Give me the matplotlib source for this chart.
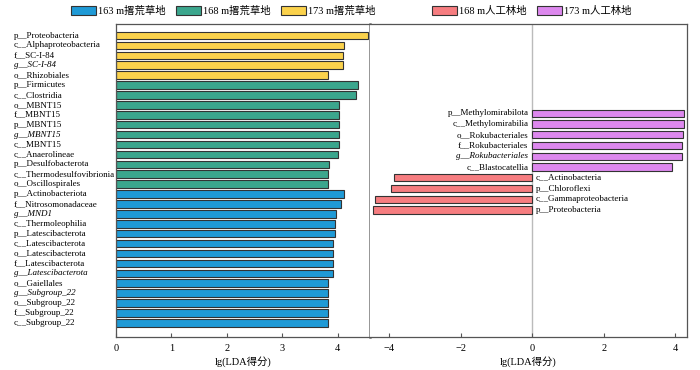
import matplotlib.pyplot as plt
from matplotlib.patches import Patch
from matplotlib.transforms import blended_transform_factory

plt.rcParams['font.family'] = ['Liberation Serif', 'Noto Sans CJK SC']
plt.rcParams['axes.unicode_minus'] = True

# left panel: 撂荒草地 groups (top to bottom)
left_labels = [
    'p__Proteobacteria', 'c__Alphaproteobacteria', 'f__SC-I-84', 'g__SC-I-84',
    'o__Rhizobiales', 'p__Firmicutes', 'c__Clostridia', 'o__MBNT15',
    'f__MBNT15', 'p__MBNT15', 'g__MBNT15', 'c__MBNT15', 'c__Anaerolineae',
    'p__Desulfobacterota', 'c__Thermodesulfovibrionia', 'o__Oscillospirales',
    'p__Actinobacteriota', 'f__Nitrosomonadaceae', 'g__MND1',
    'c__Thermoleophilia', 'p__Latescibacterota', 'c__Latescibacterota',
    'o__Latescibacterota', 'f__Latescibacterota', 'g__Latescibacterota',
    'o__Gaiellales', 'g__Subgroup_22', 'o__Subgroup_22', 'f__Subgroup_22',
    'c__Subgroup_22',
]
left_values = [
    4.55, 4.11, 4.09, 4.09, 3.83, 4.37, 4.32, 4.02, 4.02, 4.02, 4.02, 4.02,
    4.01, 3.84, 3.83, 3.83, 4.11, 4.06, 3.97, 3.94, 3.94, 3.92, 3.92, 3.92,
    3.92, 3.83, 3.83, 3.83, 3.83, 3.83,
]
left_groups = ['173'] * 5 + ['168'] * 11 + ['163'] * 14

# right panel: 人工林地 groups (top to bottom)
right_labels = [
    'p__Methylomirabilota', 'c__Methylomirabilia', 'o__Rokubacteriales',
    'f__Rokubacteriales', 'g__Rokubacteriales', 'c__Blastocatellia',
    'c__Actinobacteria', 'p__Chloroflexi', 'c__Gammaproteobacteria',
    'p__Proteobacteria',
]
right_values = [4.25, 4.26, 4.21, 4.18, 4.18, 3.92, -3.85, -3.93, -4.38, -4.44]
right_groups = ['173f'] * 6 + ['168f'] * 4

colors = {
    '163': '#1f9ad6', '168': '#3ba68d', '173': '#fbd24c',
    '168f': '#f67d80', '173f': '#dd88ee',
}
legend_names = {
    '163': '163 m撂荒草地', '168': '168 m撂荒草地', '173': '173 m撂荒草地',
    '168f': '168 m人工林地', '173f': '173 m人工林地',
}

fig = plt.figure(figsize=(7, 3.7), dpi=100)
axL = fig.add_axes([0.1657, 0.0884, 0.3629, 0.8459])
axR = fig.add_axes([0.5286, 0.0884, 0.4528, 0.8459])

spine_c = '#555555'
for ax in (axL, axR):
    for s in ax.spines.values():
        s.set_color(spine_c)
        s.set_linewidth(0.9)
    ax.tick_params(axis='x', direction='in', length=3, width=0.8,
                   color=spine_c, labelsize=7.5, pad=5)
    ax.set_yticks([])

axL.spines['right'].set_color('#777777')
axL.spines['right'].set_linewidth(1.8)
axR.spines['left'].set_visible(False)

# left bars
yl = list(range(len(left_labels)))
axL.barh(yl, left_values, height=0.76,
         color=[colors[g] for g in left_groups],
         edgecolor='#333333', linewidth=0.8)
axL.set_xlim(0, 4.58)
axL.set_ylim(30.46, -1.13)
axL.set_xticks([0, 1, 2, 3, 4])
axL.set_xlabel('lg(LDA得分)', fontsize=7.5, labelpad=2)

tr = blended_transform_factory(fig.transFigure, axL.transData)
for y, lab in zip(yl, left_labels):
    style = 'italic' if lab.startswith('g__') else 'normal'
    axL.text(0.02, y, lab, transform=tr, ha='left', va='center',
             fontsize=6.5, style=style)

# right bars
yr = list(range(len(right_labels)))
axR.axvline(0, color='#bbbbbb', linewidth=1.0, zorder=0)
axR.barh(yr, right_values, height=0.68,
         color=[colors[g] for g in right_groups],
         edgecolor='#333333', linewidth=0.8)
axR.set_xlim(-4.53, 4.33)
axR.set_ylim(20.85, -8.29)
axR.set_xticks([-4, -2, 0, 2, 4])
axR.set_xlabel('lg(LDA得分)', fontsize=7.5, labelpad=2)

for y, v, lab in zip(yr, right_values, right_labels):
    style = 'italic' if lab.startswith('g__') else 'normal'
    if v > 0:
        axR.text(-0.1, y, lab, ha='right', va='center', fontsize=6.5, style=style)
    else:
        axR.text(0.1, y, lab, ha='left', va='center', fontsize=6.5, style=style)

# legends
h1 = [Patch(facecolor=colors[k], edgecolor='#333333', linewidth=0.8,
            label=legend_names[k]) for k in ['163', '168', '173']]
h2 = [Patch(facecolor=colors[k], edgecolor='#333333', linewidth=0.8,
            label=legend_names[k]) for k in ['168f', '173f']]
fig.legend(handles=h1, loc='center', bbox_to_anchor=(0.319, 0.97), ncol=3,
           frameon=False, fontsize=7.5, handlelength=2.4, handleheight=0.9,
           handletextpad=0.2, columnspacing=1.0)
fig.legend(handles=h2, loc='center', bbox_to_anchor=(0.76, 0.97), ncol=2,
           frameon=False, fontsize=7.5, handlelength=2.4, handleheight=0.9,
           handletextpad=0.2, columnspacing=1.0)

fig.savefig('out.png', dpi=100)
